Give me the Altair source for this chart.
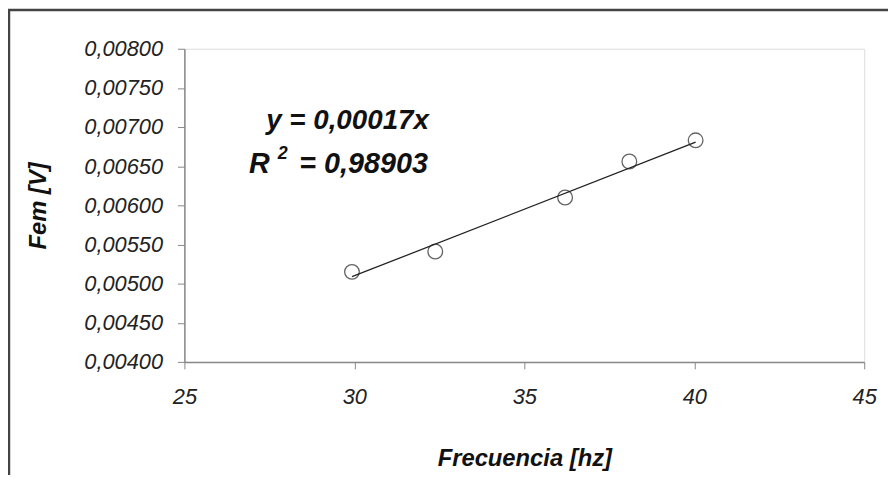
import altair as alt
import pandas as pd

# data
freq = [29.93, 32.38, 36.2, 38.09, 40.04]
fem = [0.00515, 0.00541, 0.00610, 0.00656, 0.00683]
slope = 0.00017
eq_text = "y = 0,00017x"
r2_label = "R"
r2_sup = "2"
r2_value = "= 0,98903"
x_ticks = [25, 30, 35, 40, 45]
y_ticks = [0.004, 0.0045, 0.005, 0.0055, 0.006, 0.0065, 0.007, 0.0075, 0.008]

W, H = 686, 316
FONT = "Liberation Sans"

pts = pd.DataFrame({"x": freq, "y": fem})
trend = pd.DataFrame({"x": [min(freq), max(freq)],
                      "y": [slope * min(freq), slope * max(freq)]})

xs = alt.Scale(domain=[25, 45], nice=False, zero=False)
ys = alt.Scale(domain=[0.004, 0.008], nice=False, zero=False)

common = dict(grid=False, labelFont=FONT, labelFontSize=22, labelFontStyle="italic",
              labelColor="#222", tickSize=7, tickColor="#888", domainColor="#888",
              domainWidth=1.5, labelOverlap=False, labelFlush=False, labelBound=False,
              titleFont=FONT, titleFontSize=24, titleFontStyle="italic",
              titleFontWeight="bold", titleColor="#111")

xaxis = alt.Axis(values=x_ticks, title="Frecuencia [hz]", labelPadding=18,
                 titlePadding=40, **common)
yaxis = alt.Axis(values=y_ticks, tickCount=9, title="Fem [V]",
                 labelExpr="replace(format(datum.value, '.5f'), '.', ',')",
                 labelPadding=15, titlePadding=34, **common)

X = alt.X("x:Q", scale=xs, axis=xaxis)
Y = alt.Y("y:Q", scale=ys, axis=yaxis)

line = alt.Chart(trend).mark_line(color="#222", strokeWidth=1.3).encode(x=X, y=Y)
points = alt.Chart(pts).mark_point(shape="circle", size=220, filled=False,
                                   color="#222", strokeWidth=1.3).encode(x=X, y=Y)

txt_style = dict(font=FONT, fontStyle="italic", fontWeight="bold", color="#111")


def label(xv, yv, t, size, align):
    return alt.Chart(pd.DataFrame({"x": [xv], "y": [yv], "t": [t]})).mark_text(
        fontSize=size, align=align, baseline="middle", **txt_style).encode(
        x=X, y=Y, text="t:N")


eq = label(29.8, 0.00708, eq_text, 28, "center")
rr = label(26.9, 0.006525, r2_label, 29, "left")
rs = label(27.75, 0.00666, r2_sup, 18, "left")
rv = label(28.38, 0.006525, r2_value, 29, "left")

border = alt.Chart(pd.DataFrame({"a": [0]})).mark_rect(
    fill=None, stroke="#444", strokeWidth=2.5, clip=False).encode(
    x=alt.value(-177), x2=alt.value(W + 200),
    y=alt.value(-39), y2=alt.value(H + 200))

chart = alt.layer(line, border, points, eq, rr, rs, rv).properties(
    width=W, height=H,
    autosize=alt.AutoSizeParams(type="none"),
    padding={"left": 178, "top": 39, "right": 24, "bottom": 112},
).configure_view(strokeWidth=0).configure(background="white")

chart.save("out.html", embed_options={"renderer": "svg", "actions": False})
